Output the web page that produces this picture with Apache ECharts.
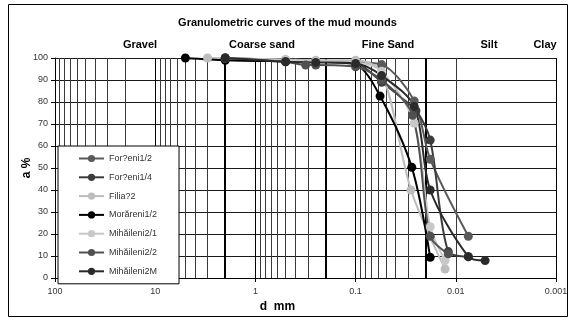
<!DOCTYPE html>
<html>
<head>
<meta charset="utf-8">
<script src="https://cdn.jsdelivr.net/npm/echarts@6/dist/echarts.min.js"></script>
<style>
  html, body { margin: 0; padding: 0; background: #fff; }
  #chart { width: 575px; height: 321px; }
</style>
</head>
<body>
<div id="chart"></div>
<script>
// sample names (legend order)
var sampleNames = ['For?eni1/2', 'For?eni1/4', 'Filia?2', 'Morăreni1/2', 'Mihăileni2/1', 'Mihăileni2/2', 'Mihăileni2M'];
var sampleColors = ['#5a5a5a', '#3c3c3c', '#bdbdbd', '#000000', '#c8c8c8', '#505050', '#2a2a2a'];

// [d mm, passing %]
var fore12 = [[2, 100], [0.5, 99], [0.25, 98.5], [0.1, 98], [0.055, 97], [0.026, 80.5], [0.018, 54], [0.0075, 19]];
var fore14 = [[2, 100], [0.5, 99], [0.25, 98.3], [0.1, 97.6], [0.055, 89], [0.025, 76], [0.018, 62.7], [0.0119, 12], [0.0075, 9.7]];
var filia2 = [[3, 100], [0.5, 99.3], [0.25, 99], [0.1, 99], [0.055, 93.5], [0.028, 40], [0.0128, 4.1]];
var morareni12 = [[5, 100], [2, 99], [0.5, 98.5], [0.25, 98.3], [0.1, 97], [0.057, 82.7], [0.0275, 50.3], [0.018, 9.4]];
var mihaileni21 = [[2, 100], [0.5, 99], [0.25, 98.5], [0.1, 98], [0.055, 94], [0.026, 70.3], [0.018, 23.3], [0.0128, 7.9]];
var mihaileni22 = [[2, 100], [0.5, 98.3], [0.315, 96.8], [0.25, 96.8], [0.1, 96], [0.055, 90], [0.027, 74], [0.018, 19], [0.0119, 11]];
var mihaileni2M = [[2, 100], [0.5, 98.3], [0.25, 98], [0.1, 97.5], [0.055, 92], [0.026, 78], [0.018, 40], [0.0075, 9.7], [0.0051, 7.9]];
var sampleData = [fore12, fore14, filia2, morareni12, mihaileni21, mihaileni22, mihaileni2M];

// fraction names along the top
var fractionNames = ['Gravel', 'Coarse sand', 'Fine Sand', 'Silt', 'Clay'];
var fractionX = [140, 262, 388, 489, 545];
// fraction boundaries, mm
var boundaries = [2, 0.2, 0.02, 0.002];

// log minor grid positions (2..9 in each decade)
var minorLines = [];
[0.001, 0.01, 0.1, 1, 10].forEach(function (b) {
    for (var k = 2; k <= 9; k++) {
        minorLines.push({ xAxis: +(b * k).toPrecision(3) });
    }
});

var chart = echarts.init(document.getElementById('chart'));

var series = [{
    name: 'grid',
    type: 'line',
    data: [],
    silent: true,
    z: 1,
    markLine: {
        silent: true,
        symbol: 'none',
        z: 1,
        label: { show: false },
        lineStyle: { color: '#3a3a3a', width: 1, type: 'solid' },
        data: minorLines.concat(boundaries.map(function (v) {
            return { xAxis: v, lineStyle: { color: '#000', width: 2 } };
        }))
    }
}];

sampleNames.forEach(function (n, i) {
    series.push({
        name: n,
        type: 'line',
        data: sampleData[i],
        smooth: 0.3,
        symbol: 'circle',
        symbolSize: 9,
        z: 3,
        lineStyle: { color: sampleColors[i], width: 2 },
        itemStyle: { color: sampleColors[i] }
    });
});

var graphics = [{
    type: 'rect',
    shape: { x: 8.5, y: 4.5, width: 559, height: 312 },
    style: { fill: 'none', stroke: '#000', lineWidth: 1 }
}];
fractionNames.forEach(function (n, i) {
    graphics.push({
        type: 'text',
        x: fractionX[i],
        y: 45,
        style: {
            text: n, fill: '#000', font: 'bold 11px Arial',
            textAlign: 'center', textVerticalAlign: 'middle'
        }
    });
});

var option = {
    animation: false,
    title: {
        text: 'Granulometric curves of the mud mounds',
        left: 'center',
        top: 12,
        textStyle: { fontFamily: 'Arial', fontSize: 11, fontWeight: 'bold', color: '#000' }
    },
    legend: {
        data: sampleNames,
        orient: 'vertical',
        left: 58,
        top: 146,
        z: 20,
        itemWidth: 25,
        itemHeight: 9,
        itemGap: 9.8,
        padding: [8, 22, 8, 20],
        borderColor: '#000',
        borderWidth: 1,
        backgroundColor: '#fff',
        textStyle: { fontFamily: 'Arial', fontSize: 9, color: '#333' }
    },
    grid: { left: 55, right: 19, top: 58, bottom: 43 },
    xAxis: {
        type: 'log',
        logBase: 10,
        min: 0.001,
        max: 100,
        inverse: true,
        name: 'd  mm',
        nameLocation: 'middle',
        nameGap: 23,
        nameMoveOverlap: false,
        nameTextStyle: { fontFamily: 'Arial', fontSize: 12, fontWeight: 'bold', color: '#000', padding: [0, 56, 0, 0] },
        axisLine: { lineStyle: { color: '#000', width: 1 } },
        axisTick: { show: true, length: 4, lineStyle: { color: '#000' } },
        axisLabel: { fontFamily: 'Arial', fontSize: 9, color: '#333', margin: 9 },
        splitLine: { show: true, lineStyle: { color: '#000', width: 1 } }
    },
    yAxis: {
        type: 'value',
        min: 0,
        max: 100,
        interval: 10,
        name: 'a %',
        nameLocation: 'middle',
        nameGap: 22,
        nameMoveOverlap: false,
        nameTextStyle: { fontFamily: 'Arial', fontSize: 12, fontWeight: 'bold', color: '#000' },
        axisLine: { show: true, lineStyle: { color: '#000', width: 1 } },
        axisTick: { show: true, length: 4, lineStyle: { color: '#000' } },
        axisLabel: { fontFamily: 'Arial', fontSize: 9, color: '#333', margin: 7 },
        splitLine: { show: true, lineStyle: { color: '#1a1a1a', width: 1 } }
    },
    graphic: graphics,
    series: series
};

chart.setOption(option);
</script>
</body>
</html>
